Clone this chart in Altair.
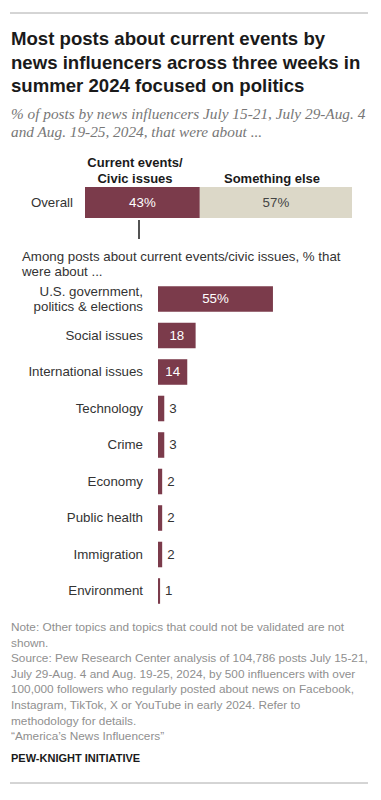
import altair as alt
import pandas as pd

# ---------------- data ----------------
title_lines = [
    "Most posts about current events by",
    "news influencers across three weeks in",
    "summer 2024 focused on politics",
]
subtitle_lines = [
    "% of posts by news influencers July 15-21, July 29-Aug. 4",
    "and Aug. 19-25, 2024, that were about ...",
]
overall_cats = ["Current events/Civic issues", "Something else"]
overall_vals = [43, 57]
overall_labels = ["43%", "57%"]

topics = [
    "U.S. government,\npolitics & elections",
    "Social issues",
    "International issues",
    "Technology",
    "Crime",
    "Economy",
    "Public health",
    "Immigration",
    "Environment",
]
topic_vals = [55, 18, 14, 3, 3, 2, 2, 2, 1]
topic_labels = ["55%", "18", "14", "3", "3", "2", "2", "2", "1"]

among_lines = [
    "Among posts about current events/civic issues, % that",
    "were about ...",
]
note_lines = [
    "Note: Other topics and topics that could not be validated are not",
    "shown.",
    "Source: Pew Research Center analysis of 104,786 posts July 15-21,",
    "July 29-Aug. 4 and Aug. 19-25, 2024, by 500 influencers with over",
    "100,000 followers who regularly posted about news on Facebook,",
    "Instagram, TikTok, X or YouTube in early 2024. Refer to",
    "methodology for details.",
    "\u201cAmerica\u2019s News Influencers\u201d",
]
brand = "PEW-KNIGHT INITIATIVE"

MAROON = "#7b3b4b"
BEIGE = "#dcd8c8"
SANS = "Liberation Sans"
BODY = 13.3

W, H = 365, 784

# ---------------- top (overall) bar ----------------
start = [0]
for v in overall_vals[:-1]:
    start.append(start[-1] + v)
odf = pd.DataFrame({
    "cat": overall_cats,
    "start": start,
    "end": [s + v for s, v in zip(start, overall_vals)],
    "mid": [s + v / 2 for s, v in zip(start, overall_vals)],
    "label": overall_labels,
    "row": ["Overall"] * 2,
})
ox = alt.Scale(domain=[0, 100], range=[77, 344])
oy = alt.Scale(domain=["Overall"], range=[179, 210], paddingInner=0, paddingOuter=0)

o_bar = alt.Chart(odf).mark_bar().encode(
    x=alt.X("start:Q", scale=ox, axis=None),
    x2="end:Q",
    y=alt.Y("row:N", scale=oy, axis=None),
    color=alt.Color("cat:N", scale=alt.Scale(domain=overall_cats, range=[MAROON, BEIGE]), legend=None),
)
o_txt = alt.Chart(odf).mark_text(font=SANS, fontSize=BODY).encode(
    x=alt.X("mid:Q", scale=ox, axis=None),
    y=alt.Y("row:N", scale=oy, axis=None),
    text="label:N",
    color=alt.condition("datum.cat == 'Something else'", alt.value("#444444"), alt.value("#ffffff")),
)
o_row = alt.Chart(odf.iloc[:1]).mark_text(font=SANS, fontSize=BODY, align="right", color="#333333").encode(
    x=alt.value(65),
    y=alt.Y("row:N", scale=oy, axis=None),
    text="row:N",
)
top_group = alt.layer(o_bar, o_txt, o_row)

# ---------------- lower bars ----------------
tdf = pd.DataFrame({
    "topic": topics,
    "value": topic_vals,
    "label": topic_labels,
})
tdf["half"] = tdf["value"] / 2
tdf["multi"] = tdf["topic"].str.contains("\n")
tx = alt.Scale(domain=[0, 100], range=[150, 359])
ty = alt.Scale(domain=topics, range=[272.75, 601.25], paddingInner=0.3, paddingOuter=0.15)

t_bar = alt.Chart(tdf).mark_bar(color=MAROON).encode(
    x=alt.X("value:Q", scale=tx, axis=None, stack=None),
    y=alt.Y("topic:N", scale=ty, axis=None, sort=topics),
)
t_in = alt.Chart(tdf).transform_filter("datum.value >= 10").mark_text(
    font=SANS, fontSize=BODY, color="#ffffff"
).encode(
    x=alt.X("half:Q", scale=tx, axis=None),
    y=alt.Y("topic:N", scale=ty, axis=None, sort=topics),
    text="label:N",
)
t_out = alt.Chart(tdf).transform_filter("datum.value < 10").mark_text(
    font=SANS, fontSize=BODY, color="#333333", align="left", dx=5
).encode(
    x=alt.X("value:Q", scale=tx, axis=None),
    y=alt.Y("topic:N", scale=ty, axis=None, sort=topics),
    text="label:N",
)
t_cat = alt.Chart(tdf).transform_filter("!datum.multi").mark_text(
    font=SANS, fontSize=BODY, color="#333333", align="right"
).encode(
    x=alt.value(135),
    y=alt.Y("topic:N", scale=ty, axis=None, sort=topics),
    text="topic:N",
)
t_cat2 = alt.Chart(tdf).transform_filter("datum.multi").mark_text(
    font=SANS, fontSize=BODY, color="#333333", align="right", lineBreak="\n", lineHeight=14.5, dy=-7
).encode(
    x=alt.value(135),
    y=alt.Y("topic:N", scale=ty, axis=None, sort=topics),
    text="topic:N",
)
bottom_group = alt.layer(t_bar, t_in, t_out, t_cat, t_cat2)

# ---------------- text annotations ----------------
def text_layer(lines, x, y0, step, **kw):
    df = pd.DataFrame({"t": lines, "i": list(range(len(lines)))})
    layers = []
    for i, line in enumerate(lines):
        layers.append(
            alt.Chart(df.iloc[[i]]).mark_text(align="left", baseline="alphabetic", **kw).encode(
                x=alt.value(x), y=alt.value(y0 + step * i), text="t:N"
            )
        )
    return layers

title_l = text_layer(title_lines, 3, 37, 23.5, font=SANS, fontSize=18.6, fontWeight="bold", color="#1a1a1a")
sub_l = text_layer(subtitle_lines, 3, 111, 17.5, font="Liberation Serif", fontSize=15.3, fontStyle="italic", color="#777777")
among_l = text_layer(among_lines, 14, 253, 14.5, font=SANS, fontSize=BODY, color="#333333")
note_l = text_layer(note_lines, 3, 623, 15.6, font=SANS, fontSize=11.8, color="#8f8f8f")
brand_l = text_layer([brand], 3, 754, 0, font=SANS, fontSize=11, fontWeight="bold", color="#1a1a1a")

hdr = pd.DataFrame({"t": ["Current events/", "Civic issues", "Something else"]})
HDR = dict(font=SANS, fontSize=13, fontWeight="bold", color="#1a1a1a")
hdr_layers = [
    alt.Chart(hdr.iloc[[0]]).mark_text(**HDR).encode(x=alt.value(127), y=alt.value(155), text="t:N"),
    alt.Chart(hdr.iloc[[1]]).mark_text(**HDR).encode(x=alt.value(127), y=alt.value(171), text="t:N"),
    alt.Chart(hdr.iloc[[2]]).mark_text(**HDR).encode(x=alt.value(264), y=alt.value(171), text="t:N"),
]

rule_df = pd.DataFrame({"k": [0]})
top_rule = alt.Chart(rule_df).mark_rule(color="#aaaaaa", strokeWidth=1).encode(
    x=alt.value(2), x2=alt.value(360), y=alt.value(5))
bot_rule = alt.Chart(rule_df).mark_rule(color="#aaaaaa", strokeWidth=1).encode(
    x=alt.value(2), x2=alt.value(360), y=alt.value(775))
tick = alt.Chart(rule_df).mark_rule(color="#1a1a1a", strokeWidth=1.5).encode(
    x=alt.value(131), y=alt.value(212), y2=alt.value(231))

chart = alt.layer(
    top_group, bottom_group,
    top_rule, bot_rule, tick,
    *title_l, *sub_l, *among_l, *note_l, *brand_l, *hdr_layers,
).resolve_scale(x="independent", y="independent", color="independent").properties(
    width=W, height=H, autosize=alt.AutoSizeParams(type="none"), padding=0,
    background="#ffffff",
).configure_view(stroke=None)

chart.save("out.html", embed_options={"renderer": "svg", "actions": False})
